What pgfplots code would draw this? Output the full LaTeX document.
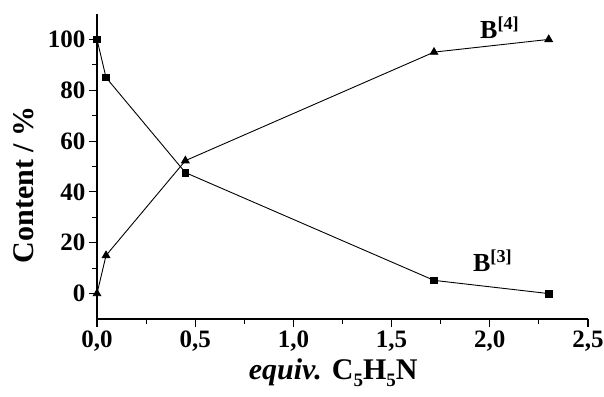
\documentclass[border=0pt]{standalone}
\usepackage{fontspec}
\setmainfont{Liberation Serif}
\usepackage{pgfplots}
\pgfplotsset{compat=1.18}
\newcommand{\sub}[1]{\raisebox{-0.55ex}{\fontsize{19}{19}\selectfont #1}}
\begin{document}
\begin{tikzpicture}
\begin{axis}[
  name=ax,
  scale only axis,
  width=491pt, height=305pt,
  xmin=0, xmax=2.5, ymin=-10, ymax=110,
  axis x line*=bottom, axis y line*=left,
  axis line style={-, line width=1.2pt},
  xtick={0,0.5,1,1.5,2,2.5},
  ytick={0,20,40,60,80,100},
  minor x tick num=1, minor y tick num=1,
  tick align=outside,
  major tick length=8pt, minor tick length=5pt,
  tick style={line width=1.1pt, black},
  /pgf/number format/assume math mode=true,
  xticklabel style={font=\bfseries\fontsize{25}{25}\selectfont,
    /pgf/number format/.cd, fixed, fixed zerofill, precision=1, use comma},
  yticklabel style={font=\bfseries\fontsize{25}{25}\selectfont},
  xlabel={\textit{equiv.} C\sub{5}H\sub{5}N},
  ylabel={Content / \%},
  xlabel style={font=\bfseries\fontsize{30}{30}\selectfont, at={(axis description cs:0.481,-0.198)}, anchor=base},
  ylabel style={font=\bfseries\fontsize{30}{30}\selectfont, at={(axis description cs:-0.130,0.44)}, anchor=base},
  clip=false,
]
\addplot[black, line width=0.9pt, mark=square*, mark size=3.4pt, mark options={solid}] coordinates {
  (0,100) (0.046,85) (0.45,47.6) (1.716,5.2) (2.3,0)
};
\addplot[black, line width=0.9pt, mark=triangle*, mark size=4.3pt, mark options={solid}] coordinates {
  (0,0) (0.046,15) (0.45,52.3) (1.716,95) (2.3,100)
};
\node[anchor=base west, font=\bfseries\fontsize{26}{26}\selectfont, inner sep=0pt] at (axis cs:1.95,100.4) {B\textsuperscript{[4]}};
\node[anchor=base west, font=\bfseries\fontsize{26}{26}\selectfont, inner sep=0pt] at (axis cs:1.914,8.7) {B\textsuperscript{[3]}};
\end{axis}
\pgfresetboundingbox
\path[use as bounding box] (ax.south west) ++(-97pt,-77pt) rectangle ([xshift=16pt,yshift=14pt]ax.north east);
\end{tikzpicture}
\end{document}
